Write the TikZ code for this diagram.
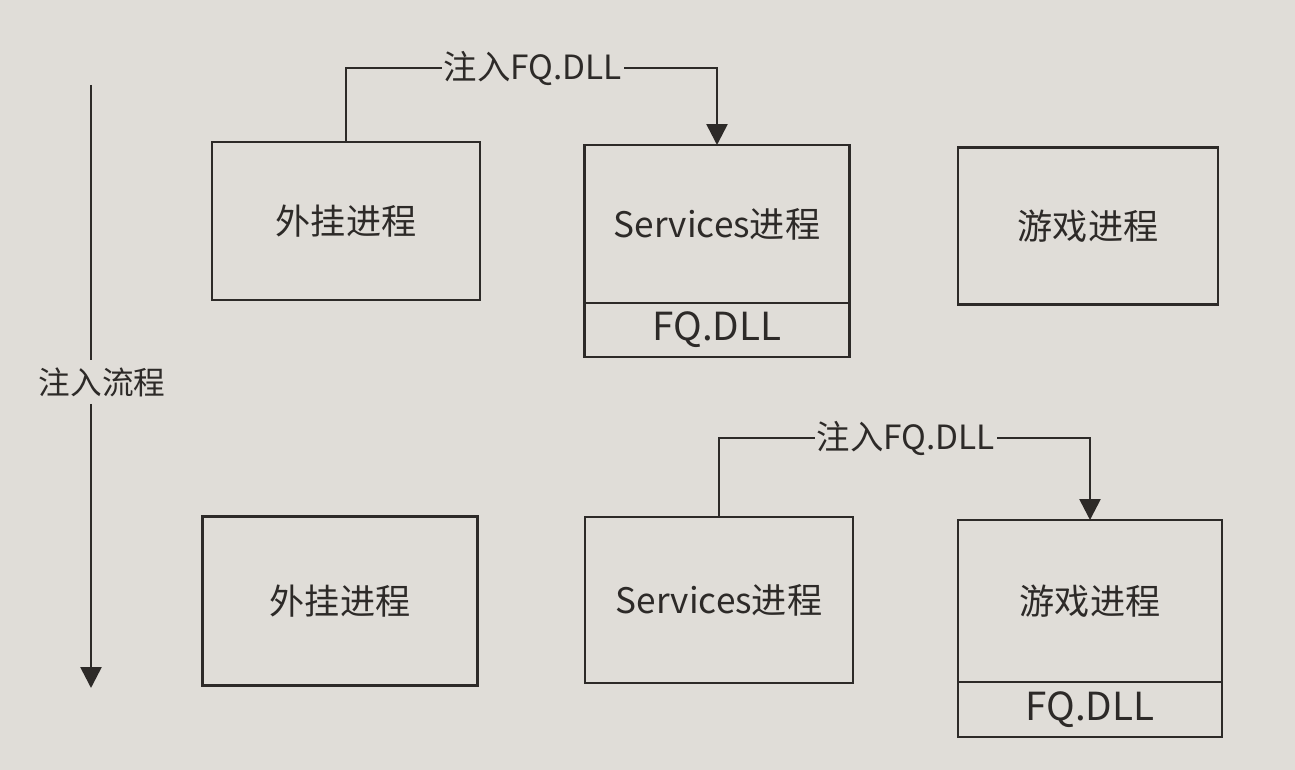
\documentclass[tikz,border=0pt]{standalone}
\usepackage{fontspec}
\setmainfont{Noto Sans CJK SC}
\usetikzlibrary{arrows.meta,positioning}
\definecolor{paper}{RGB}{224,221,216}
\definecolor{ink}{RGB}{45,42,40}

\begin{document}
\begin{tikzpicture}[x=0.02cm,y=-0.02cm]
\tikzstyle{proc}=[draw=ink,line width=1.2pt,text=ink,inner sep=0pt,outer sep=0pt,font=\fontsize{20}{24}\selectfont];
\tikzstyle{dll}=[draw=ink,line width=1.2pt,text=ink,inner sep=0pt,outer sep=0pt,font=\fontsize{22}{26}\selectfont];
\tikzstyle{tag}=[fill=paper,text=ink,inner sep=1pt,font=\fontsize{19}{22}\selectfont];
\tikzstyle{inject}=[draw=ink,line width=1.5pt];
\tikzstyle{tip}=[-{Triangle[length=0.42cm,width=0.42cm]}];
\fill[paper] (0,0) rectangle (1295,770);
% first step
\node[proc,minimum width=5.36cm,minimum height=3.16cm] (waigua1) at (346,221) {外挂进程};
\node[proc,minimum width=5.3cm,minimum height=3.16cm] (serv1) at (717,224) {Services进程};
\node[dll,minimum width=5.3cm,minimum height=1.08cm,below=0pt of serv1] (dll1) {FQ.DLL};
\node[proc,minimum width=5.2cm,minimum height=3.14cm] (game1) at (1088,226) {游戏进程};
\node[tag] (lbl1) at (533,68) {注入FQ.DLL};
\draw[inject] (lbl1.west) -| (waigua1.north);
\draw[inject,tip] (lbl1.east) -| (serv1.north);
% second step
\node[proc,minimum width=5.5cm,minimum height=3.38cm] (waigua2) at (340,601) {外挂进程};
\node[proc,minimum width=5.36cm,minimum height=3.32cm] (serv2) at (719,600) {Services进程};
\node[proc,minimum width=5.28cm,minimum height=3.24cm] (game2) at (1090,601) {游戏进程};
\node[dll,minimum width=5.28cm,minimum height=1.1cm,below=0pt of game2] (dll2) {FQ.DLL};
\node[tag] (lbl2) at (906,438) {注入FQ.DLL};
\draw[inject] (lbl2.west) -| (serv2.north);
\draw[inject,tip] (lbl2.east) -| (game2.north);
% flow
\coordinate (flowtop) at (91,85);
\coordinate (flowbot) at (91,688);
\node[tag,inner sep=4pt,font=\fontsize{18}{21}\selectfont] (flow) at (102,382) {注入流程};
\draw[inject] (flowtop) -- (flowtop |- flow.north);
\draw[inject,tip] (flowbot |- flow.south) -- (flowbot);
\end{tikzpicture}
\end{document}
